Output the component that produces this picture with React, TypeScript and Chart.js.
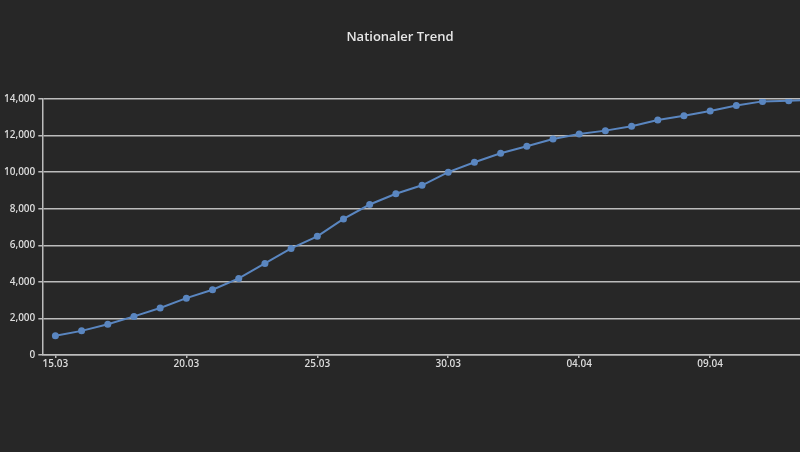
import React, { useEffect, useRef } from "react";
import { Chart, registerables } from "chart.js";

Chart.register(...registerables);

const title = "Nationaler Trend";
const dates = [
  "15.03", "16.03", "17.03", "18.03", "19.03", "20.03", "21.03", "22.03", "23.03", "24.03",
  "25.03", "26.03", "27.03", "28.03", "29.03", "30.03", "31.03", "01.04", "02.04", "03.04",
  "04.04", "05.04", "06.04", "07.04", "08.04", "09.04", "10.04", "11.04", "12.04", "13.04",
];
const cases = [
  1050, 1320, 1680, 2110, 2570, 3110, 3570, 4190, 5010, 5830,
  6490, 7440, 8230, 8820, 9280, 10000, 10540, 11030, 11420, 11810,
  12090, 12270, 12510, 12850, 13090, 13340, 13640, 13870, 13910, 13960,
];
const yMin = 0;
const yMax = 14000;
const yStep = 2000;
const labelEvery = 5;

const VIEW_W = 800;
const VIEW_H = 452;
const CANVAS_W = 832;

const BG = "#272727";
const GRID = "#bcbcbc";
const TEXT = "#dcdcdc";
const LINE = "#5a86c0";
const FONT = "'Open Sans', sans-serif";

export default function App() {
  const ref = useRef<HTMLCanvasElement | null>(null);

  useEffect(() => {
    document.body.style.margin = "0";
    document.body.style.background = BG;
    document.body.style.overflow = "hidden";
    const bgPlugin = {
      id: "bg",
      beforeDraw(chart: any) {
        const c = chart.ctx;
        c.save();
        c.fillStyle = BG;
        c.fillRect(0, 0, chart.width, chart.height);
        c.restore();
      },
      afterDraw(chart: any) {
        const c = chart.ctx;
        c.save();
        c.fillStyle = "#e6e6e6";
        c.font = `600 13px ${FONT}`;
        c.textAlign = "center";
        c.textBaseline = "middle";
        c.fillText(title, VIEW_W / 2, 37);
        c.restore();
      },
    };
    const chart = new Chart(ref.current as HTMLCanvasElement, {
      type: "line",
      data: {
        labels: dates,
        datasets: [
          {
            data: cases,
            borderColor: LINE,
            backgroundColor: LINE,
            borderWidth: 2,
            pointRadius: 3.5,
            pointBackgroundColor: LINE,
            pointBorderColor: LINE,
            pointBorderWidth: 0,
            tension: 0,
          },
        ],
      },
      options: {
        responsive: false,
        animation: false,
        layout: { padding: { left: 1, right: 0, top: 99, bottom: 82 } },
        plugins: {
          legend: { display: false },
          tooltip: { enabled: false },
          title: { display: false },
        },
        scales: {
          x: {
            type: "category",
            offset: true,
            grid: {
              display: true,
              drawOnChartArea: false,
              offset: false,
              color: (ctx: any) => (ctx.index % labelEvery === 0 ? GRID : "rgba(0,0,0,0)"),
              tickLength: 3,
              lineWidth: 1.5,
            },
            border: { display: true, color: GRID, width: 1.5 },
            ticks: {
              autoSkip: false,
              maxRotation: 0,
              color: TEXT,
              padding: 0,
              font: { family: FONT, size: 10, weight: "600" },
              callback: (_v: any, i: number) => (i % labelEvery === 0 ? dates[i] : ""),
            },
          },
          y: {
            min: yMin,
            max: yMax,
            grid: { color: GRID, lineWidth: 1.5, tickLength: 4 },
            border: { display: true, color: GRID, width: 1.5 },
            ticks: {
              stepSize: yStep,
              color: TEXT,
              padding: 3,
              font: { family: FONT, size: 10, weight: "600" },
              callback: (v: any) => Number(v).toLocaleString("en-US"),
            },
          },
        },
      },
      plugins: [bgPlugin],
    } as any);
    return () => chart.destroy();
  }, []);

  return (
    <div style={{ width: VIEW_W, height: VIEW_H, overflow: "hidden", background: BG }}>
      <canvas ref={ref} width={CANVAS_W} height={VIEW_H} style={{ display: "block" }} />
    </div>
  );
}
